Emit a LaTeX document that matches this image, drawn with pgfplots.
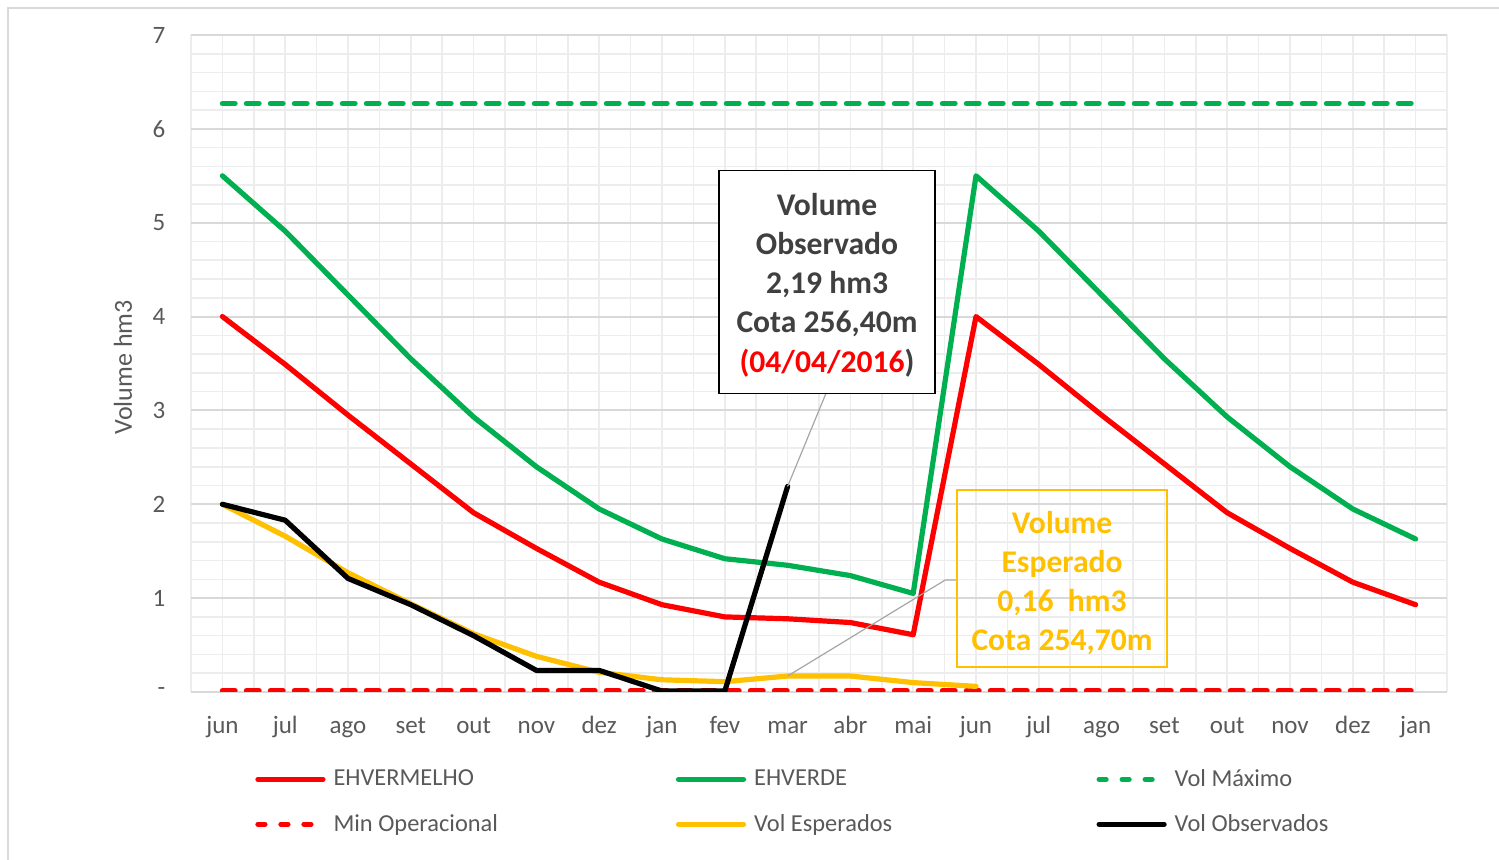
\documentclass[border=0pt]{standalone}
\usepackage{pgfplots}
\pgfplotsset{compat=1.18}
\usepackage{fontspec}
\setmainfont{Carlito}
\definecolor{cred}{HTML}{FF0000}
\definecolor{cgreen}{HTML}{00B050}
\definecolor{cyellow}{HTML}{FFC000}
\definecolor{ctext}{HTML}{595959}
\definecolor{cdark}{HTML}{404040}
\definecolor{gmajor}{HTML}{D9D9D9}
\definecolor{gminor}{HTML}{EDEDED}
\definecolor{cconn}{HTML}{A6A6A6}
\begin{document}
\begin{tikzpicture}[x=1pt,y=1pt]
\useasboundingbox (0,0) rectangle (749.5,430);
\draw[gmajor, line width=1pt] (4.2,-5) -- (4.2,426) -- (760,426);
\begin{axis}[
  at={(95.5pt,84pt)}, anchor=south west,
  scale only axis, width=628pt, height=328.5pt,
  xmin=-0.5, xmax=19.5, ymin=0, ymax=7,
  xtick={0,...,19},
  xticklabels={jun,jul,ago,set,out,nov,dez,jan,fev,mar,abr,mai,jun,jul,ago,set,out,nov,dez,jan},
  minor xtick={-0.5,0,...,19.5},
  ytick={0,...,7},
  yticklabels={-,1,2,3,4,5,6,7},
  minor ytick={0,0.2,...,7},
  major tick length=0pt, minor tick length=0pt,
  axis line style={draw=none},
  ymajorgrids, yminorgrids, xminorgrids,
  major grid style={gmajor, line width=1pt},
  minor grid style={gminor, line width=0.8pt},
  tick label style={font=\fontsize{12.5}{15}\selectfont, text=ctext},
  xticklabel style={anchor=base, yshift=-21pt},
  yticklabel style={anchor=east, xshift=-9.3pt},
  ylabel={Volume hm3},
  every axis y label/.style={at={(axis description cs:-0.0541,0.494)}, rotate=90, anchor=center, font=\fontsize{13}{15}\selectfont, text=ctext},
  legend columns=3,
  legend cell align=left,
  legend image code/.code={\draw[#1] (0pt,0pt) -- (32.5pt,0pt);},
  legend style={at={(axis description cs:0.0509,0)}, anchor=north west, yshift=-38.5pt,
    draw=none, fill=none, inner sep=0pt, column sep=0pt, row sep=12.5pt,
    font=\fontsize{12.2}{15}\selectfont, text=ctext,
    nodes={inner sep=0pt}},
]
\addlegendimage{cred, line width=2.6pt, line cap=round}
\addlegendentry{\hspace{4pt}\makebox[171.2pt][l]{EHVERMELHO}}
\addlegendimage{cgreen, line width=2.6pt, line cap=round}
\addlegendentry{\hspace{4pt}\makebox[171.2pt][l]{EHVERDE}}
\addlegendimage{cgreen, line width=2.6pt, line cap=round, dash pattern=on 3.5pt off 8pt}
\addlegendentry{\hspace{4pt}\makebox[100pt][l]{Vol Máximo}}
\addlegendimage{cred, line width=2.6pt, line cap=round, dash pattern=on 3.5pt off 8pt}
\addlegendentry{\hspace{4pt}\makebox[171.2pt][l]{Min Operacional}}
\addlegendimage{cyellow, line width=2.6pt, line cap=round}
\addlegendentry{\hspace{4pt}\makebox[171.2pt][l]{Vol Esperados}}
\addlegendimage{black, line width=2.6pt, line cap=round}
\addlegendentry{\hspace{4pt}\makebox[100pt][l]{Vol Observados}}

\addplot[cred, line width=2.6pt, line join=round, line cap=round, forget plot] coordinates {
(0,4.00) (1,3.49) (2,2.95) (3,2.43) (4,1.91) (5,1.53) (6,1.17) (7,0.93) (8,0.80) (9,0.78)
(10,0.74) (11,0.61) (12,4.00) (13,3.49) (14,2.95) (15,2.43) (16,1.91) (17,1.53) (18,1.17) (19,0.93)};
\addplot[cgreen, line width=2.6pt, line join=round, line cap=round, forget plot] coordinates {
(0,5.50) (1,4.91) (2,4.23) (3,3.55) (4,2.93) (5,2.40) (6,1.95) (7,1.63) (8,1.42) (9,1.35)
(10,1.24) (11,1.05) (12,5.50) (13,4.91) (14,4.23) (15,3.55) (16,2.93) (17,2.40) (18,1.95) (19,1.63)};
\addplot[cgreen, line width=2.6pt, line cap=round, dash pattern=on 6.35pt off 5.65pt, forget plot] coordinates {
(0,6.27) (19,6.27)};
\addplot[cred, line width=2.6pt, line cap=round, dash pattern=on 6.35pt off 5.65pt, forget plot] coordinates {
(0,0.013) (19,0.013)};
\addplot[cyellow, line width=2.6pt, line join=round, line cap=round, forget plot] coordinates {
(0,2.00) (1,1.66) (2,1.27) (3,0.94) (4,0.62) (5,0.38) (6,0.21) (7,0.13) (8,0.11) (9,0.17)
(10,0.17) (11,0.10) (12,0.06)};
\addplot[black, line width=2.6pt, line join=round, line cap=round, forget plot] coordinates {
(0,2.00) (1,1.83) (2,1.21) (3,0.93) (4,0.60) (5,0.23) (6,0.23) (7,0.01) (8,0.01) (9,2.19)};

\draw[cconn, line width=0.6pt] (axis cs:9.61,3.18) -- (axis cs:9,2.19);
\draw[cconn, line width=0.6pt] (axis cs:11.70,1.193) -- (axis cs:11.51,1.193) -- (axis cs:9,0.17);
\node[draw=black, line width=0.8pt, fill=white, minimum width=108pt, minimum height=111.5pt, inner sep=0pt]
  at (axis cs:9.628,4.37) {};
\node[align=center, text=cdark, font=\bfseries\fontsize{15.8}{19.6}\selectfont, inner sep=0pt, yshift=-1.6pt]
  at (axis cs:9.628,4.37) {Volume\\Observado\\2,19 hm3\\Cota 256,40m\\\textcolor{cred}{(04/04/2016}\textcolor{cdark}{)}};
\node[draw=cyellow, line width=0.8pt, minimum width=105pt, minimum height=88.5pt, inner sep=0pt]
  at (axis cs:13.37,1.209) {};
\node[align=center, text=cyellow, font=\bfseries\fontsize{15.8}{19.6}\selectfont, inner sep=0pt, yshift=-2.3pt]
  at (axis cs:13.37,1.209) {Volume\\Esperado\\0,16\ \ hm3\\Cota 254,70m};
\end{axis}
\end{tikzpicture}
\end{document}
